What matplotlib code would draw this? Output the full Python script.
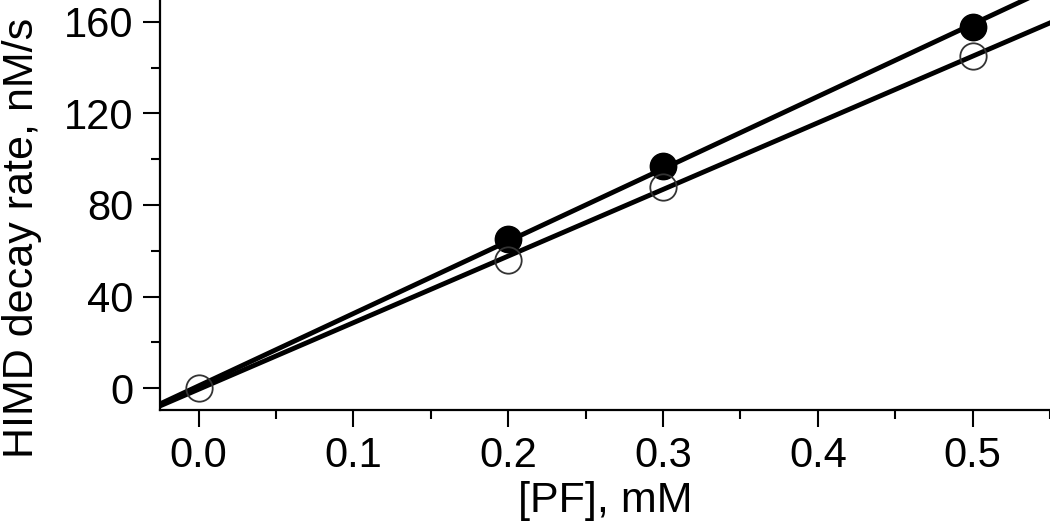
import numpy as np
import matplotlib
matplotlib.use('Agg')
import matplotlib.pyplot as plt
from matplotlib.ticker import MultipleLocator

plt.rcParams['font.family'] = ['Liberation Sans', 'DejaVu Sans']

# filled circles
pf_filled = [0.2, 0.3, 0.5]
rate_filled = [65, 97, 158]
# open circles
pf_open = [0.0, 0.2, 0.3, 0.5]
rate_open = [0, 56, 88, 145]

# linear fits (through origin point too)
k1 = np.polyfit([0.0] + pf_filled, [0] + rate_filled, 1)
k2 = np.polyfit(pf_open, rate_open, 1)
xfit = np.array([-0.03, 0.56])

fig = plt.figure(figsize=(10.5, 5.24), dpi=100)
ax = fig.add_axes([160 / 1050, 114 / 524, 890 / 1050, 410 / 524])

ax.plot(xfit, np.polyval(k1, xfit), color='black', lw=3.5, zorder=2)
ax.plot(xfit, np.polyval(k2, xfit), color='black', lw=3.5, zorder=2)
ax.plot(pf_filled, rate_filled, 'o', color='black', ms=19, zorder=3)
ax.plot(pf_open, rate_open, 'o', mfc='none', mec='#333333', mew=1.3, ms=19, zorder=3)

ax.set_xlim(-0.025, 0.55)
ax.set_ylim(-9.6, 169.6)
ax.xaxis.set_major_locator(MultipleLocator(0.1))
ax.xaxis.set_minor_locator(MultipleLocator(0.05))
ax.yaxis.set_major_locator(MultipleLocator(40))
ax.yaxis.set_minor_locator(MultipleLocator(20))
ax.set_xticks([0.0, 0.1, 0.2, 0.3, 0.4, 0.5])
ax.set_xticklabels(['0.0', '0.1', '0.2', '0.3', '0.4', '0.5'])

for s in ['top', 'right']:
    ax.spines[s].set_visible(False)
for s in ['left', 'bottom']:
    ax.spines[s].set_linewidth(1.6)

ax.tick_params(which='major', length=12, width=1.5, labelsize=30, pad=7)
ax.tick_params(which='minor', length=6.5, width=1.5)

ax.set_xlabel('[PF], mM', fontsize=31, labelpad=3)
fig.text(2 / 1050, (524 - 458) / 524, 'HIMD decay rate, nM/s', fontsize=31,
         rotation=90, ha='left', va='bottom')

fig.savefig('out.png', dpi=100)
